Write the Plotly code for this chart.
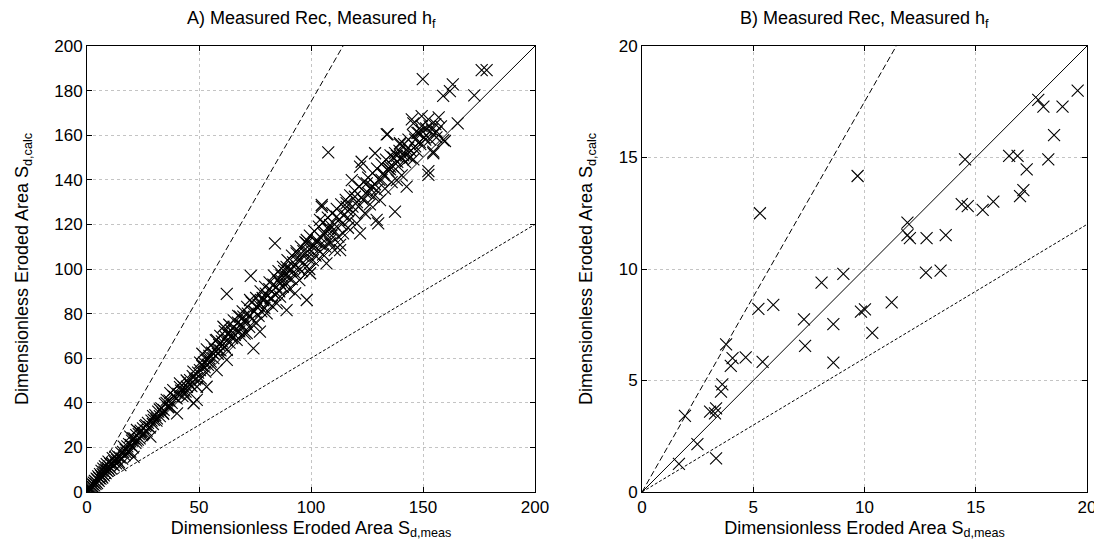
import plotly.graph_objects as go

# ---------------- Panel A data (S_d,meas vs S_d,calc) ----------------
a_meas = [0.5,0.8,1.0,1.2,1.5,1.8,2.0,2.2,2.5,2.8,3.0,3.2,3.5,3.8,4.0,4.3,4.5,4.8,5.0,5.2,5.5,5.8,6.0,6.3,6.5,6.8,7.0,7.3,7.5,7.8,8.0,8.3,8.5,8.8,9.0,9.3,9.6,9.8,10.0,10.4,
          10.8,11.2,11.5,11.9,12.2,12.6,13.0,13.4,13.8,14.2,14.6,14.9,15.3,15.7,16.1,16.4,16.8,17.2,17.6,18.0,18.4,18.8,19.3,19.3,19.7,20.1,20.5,20.8,21.2,21.6,22.0,22.3,22.7,23.1,23.5,24.0,24.5,25.0,25.5,26.0,26.6,27.2,27.8,28.3,28.8,29.4,29.8,
          30.5,31.2,31.8,32.5,33.2,33.8,34.2,34.8,35.6,36.2,36.8,37.2,37.8,38.5,39.2,40.2,40.8,41.5,42.0,42.6,43.2,44.0,44.5,44.6,45.3,46.0,46.6,47.2,47.6,48.2,49.0,49.1,49.6,50.4,50.8,
          51.5,52.2,52.8,53.4,53.4,54.0,54.6,55.2,55.8,56.4,57.0,57.9,57.9,58.4,59.0,59.6,60.2,60.9,61.5,62.0,62.4,62.4,62.4,63.0,63.6,64.2,64.8,65.4,66.0,66.8,67.4,68.0,68.3,68.8,69.4,69.8,70.4,71.0,71.3,71.8,72.4,72.8,73.1,73.6,74.3,74.8,
          75.4,76.0,76.6,77.2,77.2,77.8,78.4,78.7,79.2,79.8,80.2,80.8,81.4,82.0,82.6,83.2,83.9,84.0,84.7,85.2,85.8,86.2,86.2,86.8,87.4,88.0,88.6,89.1,89.1,89.6,90.2,90.8,91.4,92.0,92.9,93.0,93.6,94.2,94.8,95.4,96.0,96.6,97.2,98.1,98.1,98.1,98.6,99.2,99.6,100.2,
          100.8,101.4,102.0,102.5,103.2,104.0,104.4,104.8,104.8,105.4,105.8,106.4,106.9,107.5,107.7,108.2,108.5,108.5,109.2,110.0,110.6,111.5,112.2,113.0,113.0,113.6,114.3,115.0,115.9,115.9,116.5,117.2,118.2,118.8,119.6,120.4,121.2,121.9,121.9,122.6,123.3,124.1,124.9,125.6,126.3,127.2,128.0,128.6,129.3,129.3,130.0,
          130.8,131.5,132.3,133.0,133.8,134.2,134.6,135.3,135.3,136.0,136.8,137.5,138.3,138.3,139.0,139.7,139.7,140.5,141.2,142.0,142.7,142.7,143.4,144.2,145.0,145.7,145.7,146.5,147.2,148.0,148.8,149.4,149.4,149.9,150.6,151.4,152.4,152.4,152.4,153.2,154.0,154.6,154.6,154.6,155.5,156.1,157.0,158.0,159.0,159.0,159.8,
          162.0,163.3,165.5,172.9,176.2,178.4,
          20.5,22.0,23.5,25.0,26.5,28.0,29.5,31.0,32.5,34.0,35.5,37.0,38.5,40.0,41.5,43.0,44.5,46.0,47.5,49.0,
          50.5,51.5,52.5,53.5,54.5,55.5,56.5,57.5,58.5,59.5,60.5,61.5,62.5,63.5,64.5,65.5,66.5,67.5,68.5,69.5,70.5,71.5,72.5,73.5,74.5,75.5,76.5,77.5,78.5,79.5,
          80.5,81.5,82.5,83.5,84.5,85.5,86.5,87.5,88.5,89.5,90.5,91.5,92.5,93.5,94.5,95.5,96.5,97.5,98.5,99.5,100.5,101.5,102.5,103.5,104.5,105.5,106.5,107.5,108.5,109.5,
          110.5,111.5,112.5,113.5,114.5,115.5,116.5,117.5,118.5,119.5,120.5,121.5,122.5,123.5,124.5,125.5,126.5,127.5,128.5,129.5,
          130.5,131.5,132.5,133.5,134.5,135.5,136.5,137.5,138.5,139.5,140.5,141.5,142.5,143.5,144.5,145.5,146.5,147.5,148.5,149.5,151.0,153.0,156.0]
a_calc = [0.8,1.5,0.6,2.0,1.2,3.0,1.8,2.6,3.5,2.2,4.2,3.0,5.0,3.6,4.5,6.0,4.0,5.5,7.0,5.0,6.2,8.0,6.0,7.2,9.5,6.5,8.0,10.5,7.5,9.0,11.5,8.5,10.0,12.5,9.5,10.8,13.6,10.0,11.5,12.6,
          10.5,13.0,15.2,12.0,13.8,15.8,12.8,14.5,16.0,13.5,15.5,12.1,17.5,15.0,18.0,20.3,16.5,19.0,17.5,20.5,18.0,21.5,18.1,24.8,21.0,23.0,20.0,15.8,24.0,22.0,25.5,27.8,23.5,26.0,24.0,27.5,25.5,28.5,26.5,29.5,27.5,31.0,29.0,24.8,32.0,30.5,32.3,
          34.5,33.0,36.0,34.0,37.5,35.5,36.8,39.5,41.3,38.0,41.0,44.3,40.0,45.7,42.5,35.3,44.0,48.7,45.5,43.0,47.0,45.0,42.7,47.2,49.0,50.2,47.5,52.0,39.8,50.5,41.3,47.2,53.5,54.7,51.0,
          56.5,58.0,54.0,59.2,47.2,57.0,61.0,58.5,62.5,60.0,64.0,68.2,54.7,62.0,66.0,63.5,67.5,74.1,65.0,69.5,63.7,59.2,88.8,71.0,67.0,72.5,69.0,74.0,70.5,68.2,76.0,72.0,78.6,70.0,74.5,78.6,71.0,76.5,71.2,80.0,74.0,86.1,96.9,77.5,64.4,81.0,
          76.0,83.0,79.0,84.6,71.9,81.0,87.0,86.1,82.5,89.0,80.1,85.0,91.0,87.0,83.5,93.0,111.5,88.5,84.6,95.0,90.0,93.6,87.6,97.0,92.0,99.0,94.0,101.0,81.6,96.5,91.0,100.0,95.5,103.0,89.1,98.0,107.0,100.5,95.0,104.0,99.0,108.0,102.0,111.5,86.1,113.0,105.0,100.0,98.1,108.0,
          104.0,110.5,106.0,113.0,108.5,122.0,111.0,127.9,128.7,106.5,115.5,110.0,102.5,118.0,152.3,112.5,119.7,111.5,115.0,117.5,108.5,123.5,114.5,110.8,108.5,120.0,116.0,124.5,127.9,129.5,118.5,122.0,139.9,125.5,132.4,120.5,128.0,116.0,145.9,148.1,131.0,125.0,138.4,134.0,129.0,137.0,132.5,151.9,135.4,122.0,120.5,
          130.9,140.0,142.9,136.0,160.4,160.5,145.0,144.7,145.9,139.0,150.0,125.7,150.7,139.9,146.0,155.9,156.4,142.0,151.0,148.0,136.9,153.4,154.4,150.0,167.1,149.2,165.3,158.0,153.0,161.0,156.0,168.6,164.1,185.1,159.0,163.0,167.1,143.9,142.2,158.0,162.5,160.4,151.9,152.6,165.0,161.6,168.0,164.0,177.6,157.8,157.4,
          179.8,182.8,165.3,177.9,189.2,189.2,
          24.0,23.0,27.0,26.0,30.0,29.0,34.0,32.0,37.0,35.0,40.0,38.0,43.0,42.0,47.0,45.0,50.0,48.0,54.0,51.0,
          58.0,62.0,56.0,64.0,60.0,66.0,62.0,68.0,64.0,70.0,66.0,72.0,68.0,75.0,70.0,77.0,73.0,79.0,75.0,81.0,77.0,83.0,79.0,85.0,81.0,87.0,84.0,90.0,86.0,92.0,
          88.0,94.0,90.0,97.0,92.0,99.0,95.0,101.0,97.0,104.0,99.0,106.0,101.0,108.0,104.0,110.0,106.0,112.0,108.0,115.0,110.0,117.0,112.0,119.0,114.0,121.0,116.0,123.0,118.0,125.0,
          120.0,127.0,122.0,129.0,124.0,131.0,126.0,133.0,128.0,135.0,130.0,137.0,132.0,139.0,134.0,141.0,136.0,143.0,138.0,145.0,
          140.0,147.0,142.0,149.0,144.0,151.0,146.0,152.0,148.0,153.0,150.0,156.0,151.0,158.0,153.0,160.0,155.0,161.0,157.0,162.0,158.0,164.0,159.0]

# ---------------- Panel B data ----------------
b_meas = [5.30,9.69,14.52,16.50,16.88,17.29,18.26,18.52,17.81,18.04,18.90,19.58,16.99,17.14,14.37,14.64,15.31,15.79,11.93,11.93,12.04,12.79,13.65,
          8.07,9.05,12.76,13.42,5.23,5.90,7.28,8.60,9.84,10.02,11.22,10.35,7.33,8.60,5.42,4.66,4.07,3.99,3.78,3.61,3.55,3.06,3.28,3.33,1.93,2.49,1.66,3.33]
b_calc = [12.50,14.17,14.92,15.07,15.07,14.47,14.92,16.00,17.58,17.28,17.28,18.00,13.27,13.54,12.91,12.82,12.65,13.02,12.08,11.52,11.38,11.38,11.52,
          9.39,9.78,9.84,9.93,8.21,8.39,7.74,7.53,8.09,8.19,8.50,7.14,6.55,5.80,5.84,6.04,6.00,5.66,6.62,4.83,4.50,3.60,3.53,3.75,3.41,2.15,1.26,1.51]

# reference lines (ratio calc/meas)
ratio_upper = 1.75
ratio_equal = 1.0
ratio_lower = 0.6
a_max = 200
b_max = 20

titles = ["A) Measured Rec, Measured h<sub>f</sub>", "B) Measured Rec, Measured h<sub>f</sub>"]
x_title = "Dimensionless Eroded Area S<sub>d,meas</sub>"
y_title = "Dimensionless Eroded Area S<sub>d,calc</sub>"

FONT = "Liberation Sans, Arial, sans-serif"
W, H = 1094, 539
fig = go.Figure()

panels = [
    ("x", "y", a_meas, a_calc, a_max),
    ("x2", "y2", b_meas, b_calc, b_max),
]

for xa, ya, xs, ys, vmax in panels:
    for r, dash in [(ratio_upper, "6px,3px"), (ratio_equal, "solid"), (ratio_lower, "3px,2px")]:
        xe = min(vmax, vmax / r)
        fig.add_trace(go.Scatter(x=[0, xe], y=[0, xe * r], mode="lines",
                                 line=dict(color="black", width=1, dash=dash),
                                 xaxis=xa, yaxis=ya, showlegend=False, hoverinfo="skip"))
    fig.add_trace(go.Scatter(x=xs, y=ys, mode="markers",
                             marker=dict(symbol="x-thin-open", size=12, color="black",
                                         line=dict(color="black", width=1.1)),
                             xaxis=xa, yaxis=ya, showlegend=False))

axis_common = dict(showline=True, mirror="ticks", linecolor="black", linewidth=1,
                   ticks="inside", ticklen=5, tickcolor="black", automargin=False,
                   showgrid=True, gridcolor="#c4c4c4", griddash="dot", gridwidth=1,
                   zeroline=False, tickfont=dict(family=FONT, size=17, color="black"))

ydom = [(H - 484) / H, (H - 38) / H]
fig.update_layout(
    width=W, height=H, margin=dict(l=0, r=0, t=0, b=0),
    plot_bgcolor="white", paper_bgcolor="white",
    font=dict(family=FONT, color="black"),
    xaxis=dict(domain=[79 / W, 527 / W], range=[0, 200], dtick=50, anchor="y",
               title=dict(text=x_title, font=dict(size=18), standoff=4), **axis_common),
    yaxis=dict(domain=ydom, range=[0, 200], dtick=20, anchor="x",
               title=dict(text=y_title, font=dict(size=18), standoff=20), **axis_common),
    xaxis2=dict(domain=[634 / W, 1079 / W], range=[0, 20], dtick=5, anchor="y2",
                title=dict(text=x_title, font=dict(size=18), standoff=4), **axis_common),
    yaxis2=dict(domain=ydom, range=[0, 20], dtick=5, anchor="x2",
                title=dict(text=y_title, font=dict(size=18), standoff=21), **axis_common),
)

for t, xc in zip(titles, [303 / W, 856.5 / W]):
    fig.add_annotation(text=t, x=xc, y=1 - 11 / H, xref="paper", yref="paper",
                       showarrow=False, font=dict(family=FONT, size=18, color="black"),
                       xanchor="center", yanchor="middle")

fig.write_html("out.html")
